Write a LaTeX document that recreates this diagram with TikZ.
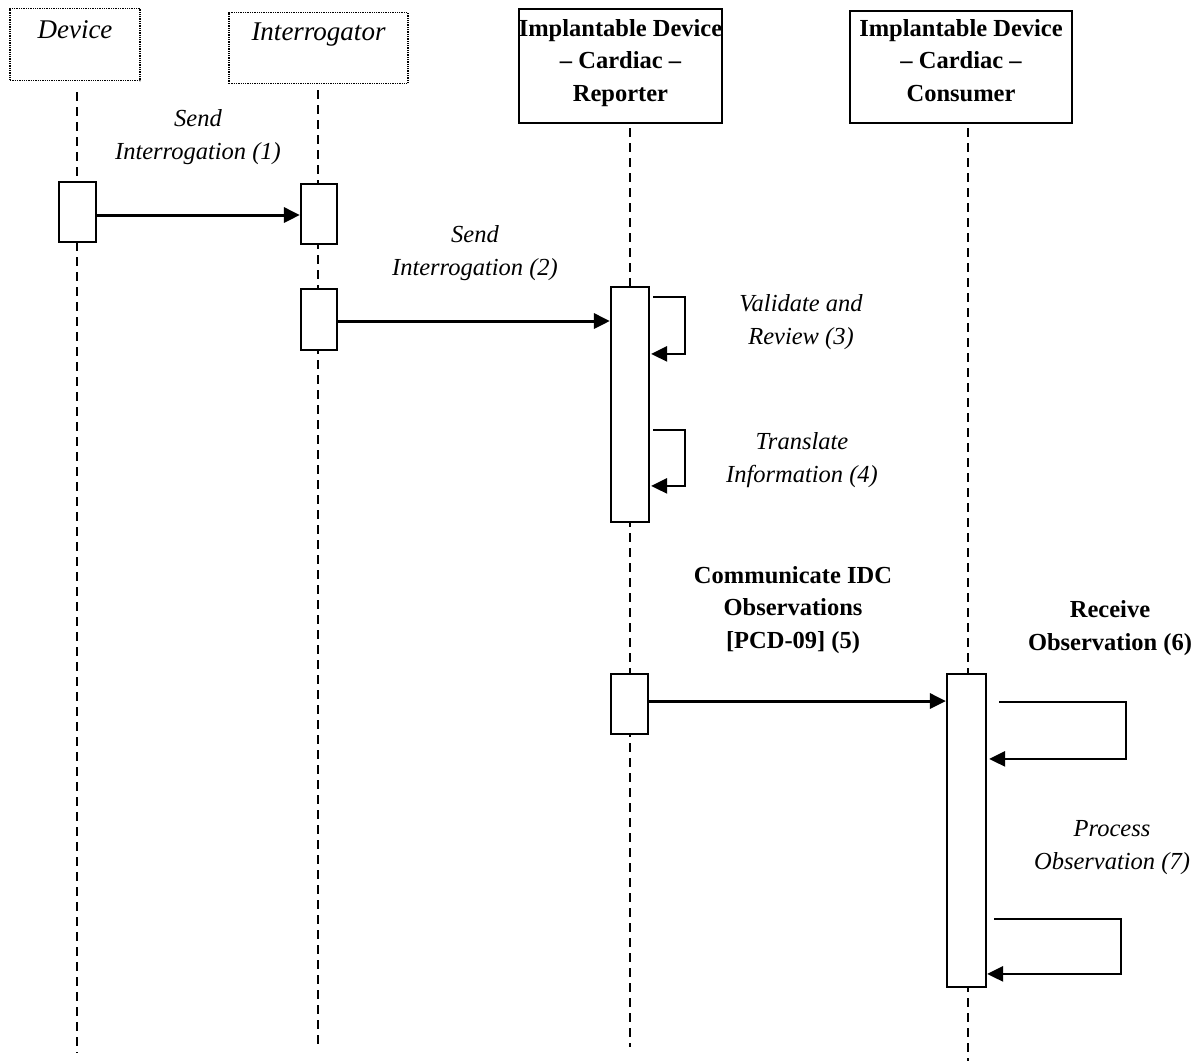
\documentclass[tikz,border=0pt]{standalone}
\usepackage{fontspec}
\setmainfont{Liberation Serif}
\usetikzlibrary{arrows.meta,calc}
\begin{document}
\begin{tikzpicture}[x=1pt,y=-1pt,
  hdrdot/.style={draw, densely dotted, line width=1.3pt, inner xsep=0pt, inner ysep=0pt, anchor=north, font=\fontsize{27}{33}\selectfont\itshape},
  hdrsolid/.style={draw, line width=2.2pt, inner xsep=0pt, inner ysep=0pt, anchor=north, align=center, font=\fontsize{24.5}{32.5}\selectfont\bfseries},
  life/.style={dash pattern=on 9pt off 6pt, line width=1.8pt},
  act/.style={draw, fill=white, line width=2.2pt, inner sep=0pt},
  msg/.style={line width=3pt, -{Triangle[length=16pt,width=15pt]}},
  selfmsg/.style={line width=2.6pt, -{Triangle[length=16pt,width=15pt]}},
  lbl/.style={align=center, inner sep=0pt, font=\fontsize{24.5}{33}\selectfont\itshape},
  blbl/.style={align=center, inner sep=0pt, font=\fontsize{24.5}{32.5}\selectfont\bfseries},
]
\useasboundingbox (0,0) rectangle (1201,1061);

% headers
\node[hdrdot, minimum width=130pt, text height=30pt, text depth=42pt] (dev) at (75,8) {Device};
\node[hdrdot, minimum width=179pt, text height=28pt, text depth=43pt] (intr) at (318.5,12) {Interrogator};
\node[hdrsolid, minimum width=197pt, text height=92pt, text depth=22pt] (rep) at (620.5,8) {Implantable Device\\– Cardiac –\\Reporter};
\node[hdrsolid, minimum width=222pt, text height=90pt, text depth=22pt] (con) at (961,10) {Implantable Device\\– Cardiac –\\Consumer};

% lifelines
\coordinate (devTop) at (77,92);   \coordinate (devBot) at (77,1053);
\coordinate (intTop) at (318,90);  \coordinate (intBot) at (318,1049);
\coordinate (repTop) at (630,128); \coordinate (repBot) at (630,1047);
\coordinate (conTop) at (968,128); \coordinate (conBot) at (968,1061);
\draw[life] (devTop) -- (devBot);
\draw[life] (intTop) -- (intBot);
\draw[life] (repTop) -- (repBot);
\draw[life] (conTop) -- (conBot);

% activations
\node[act, minimum width=37pt, minimum height=60pt] (devA) at (77.5,212) {};
\node[act, minimum width=36pt, minimum height=60pt] (intA1) at (319,214) {};
\node[act, minimum width=36pt, minimum height=61pt] (intA2) at (319,319.5) {};
\node[act, minimum width=38pt, minimum height=235pt] (repA) at (630,404.5) {};
\node[act, minimum width=37pt, minimum height=60pt] (repA2) at (629.5,704) {};
\node[act, minimum width=39pt, minimum height=313pt] (conA) at (966.5,830.5) {};

% messages
\draw[msg] ([yshift=-3pt]devA.east) -- ([yshift=-3pt]devA.east -| intA1.west);
\draw[msg] ([yshift=-1.5pt]intA2.east) -- ([yshift=-1.5pt]intA2.east -| repA.west);
\draw[msg] ([yshift=3pt]repA2.east) -- ([yshift=3pt]repA2.east -| conA.west);

% self messages
\draw[selfmsg] ($(repA.north east)+(3,11)$) -- ++(32,0) |- ($(repA.north east)+(1,68)$);
\draw[selfmsg] ($(repA.north east)+(3,144)$) -- ++(32,0) |- ($(repA.north east)+(1,200)$);
\draw[selfmsg] ($(conA.north east)+(12,29)$) -- ++(127,0) |- ($(conA.north east)+(2,86)$);
\draw[selfmsg] ($(conA.north east)+(7,246)$) -- ++(127,0) |- ($(conA.north east)+(0,301)$);

% labels
\node[lbl] (l1) at (198,137) {Send\\Interrogation (1)};
\node[lbl] (l2) at (475,253) {Send\\Interrogation (2)};
\node[lbl] (l3) at (801,322) {Validate and\\Review (3)};
\node[lbl] (l4) at (802,460) {Translate\\Information (4)};
\node[blbl] (l5) at (793,610) {Communicate IDC\\Observations\\{[PCD-09] (5)}};
\node[blbl] (l6) at (1110,628) {Receive\\Observation (6)};
\node[lbl] (l7) at (1112,848) {Process\\Observation (7)};
\end{tikzpicture}
\end{document}
